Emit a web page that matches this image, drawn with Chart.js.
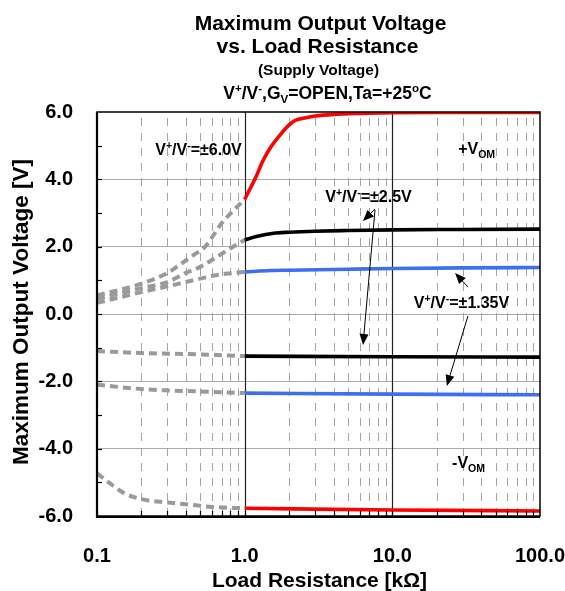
<!DOCTYPE html>
<html><head><meta charset="utf-8">
<script src="https://cdn.jsdelivr.net/npm/chart.js@4"></script>
<style>html,body{margin:0;padding:0;background:#fff}#wrap{width:565px;height:591px}</style>
</head><body><div id="wrap"><canvas id="c" width="565" height="591"></canvas></div>
<script>
// ---- data (Load resistance kΩ, output voltage V) ----
const redPosX = [1, 1.2, 1.33, 1.5, 1.8, 2.0, 2.2, 2.6, 3, 4, 6, 10, 20, 50, 100];
const redPosY = [3.4, 4.1, 4.55, 4.95, 5.4, 5.62, 5.75, 5.83, 5.88, 5.93, 5.96, 5.98, 5.99, 5.99, 5.99];
const blackPosX = [1, 1.2, 1.57, 2, 3, 5, 10, 30, 100];
const blackPosY = [2.2, 2.3, 2.4, 2.43, 2.46, 2.48, 2.5, 2.51, 2.52];
const bluePosX = [1, 1.5, 2, 5, 10, 30, 100];
const bluePosY = [1.25, 1.29, 1.3, 1.33, 1.35, 1.37, 1.38];
const blackNegX = [1, 10, 100];
const blackNegY = [-1.25, -1.27, -1.28];
const blueNegX = [1, 10, 100];
const blueNegY = [-2.35, -2.38, -2.4];
const redNegX = [1, 10, 100];
const redNegY = [-5.77, -5.82, -5.85];

const redPosExtX = [0.1, 0.2, 0.3, 0.36, 0.45, 0.54, 0.7, 0.85, 1.0];
const redPosExtY = [0.55, 0.9, 1.22, 1.45, 1.75, 2.0, 2.7, 3.1, 3.4];
const blackPosExtX = [0.1, 0.2, 0.3, 0.4, 0.5, 0.65, 0.8, 1.0];
const blackPosExtY = [0.45, 0.77, 0.95, 1.22, 1.4, 1.7, 1.95, 2.2];
const bluePosExtX = [0.1, 0.2, 0.3, 0.4, 0.5, 0.65, 0.8, 1.0];
const bluePosExtY = [0.33, 0.65, 0.82, 0.95, 1.05, 1.16, 1.21, 1.25];
const blackNegExtX = [0.1, 0.2, 0.5, 1.0];
const blackNegExtY = [-1.1, -1.16, -1.2, -1.25];
const blueNegExtX = [0.1, 0.2, 0.3, 0.5, 1.0];
const blueNegExtY = [-2.1, -2.23, -2.27, -2.3, -2.35];
const redNegExtX = [0.1, 0.12, 0.15, 0.2, 0.3, 0.4, 0.6, 1.0];
const redNegExtY = [-4.73, -5.0, -5.3, -5.5, -5.6, -5.65, -5.73, -5.77];

const xTickValues = [0.1, 1, 10, 100];
const yMin = -6, yMax = 6, yStep = 2;

const titleLines = ['Maximum Output Voltage', 'vs. Load Resistance', '(Supply Voltage)', 'V^{+}/V^{-},G_{V}=OPEN,Ta=+25^{o}C'];
const xTitle = 'Load Resistance [kΩ]';
const yTitle = 'Maximum Output Voltage [V]';

const labels = [
  {s: 'V^{+}/V^{-}=±6.0V', x: 0.4866, y: 4.72, align: 'center'},
  {s: '+V_{OM}', x: 27.9, y: 4.75, align: 'left'},
  {s: 'V^{+}/V^{-}=±2.5V', x: 6.9, y: 3.33, align: 'center'},
  {s: 'V^{+}/V^{-}=±1.35V', x: 29.4, y: 0.18, align: 'center'},
  {s: '-V_{OM}', x: 25.4, y: -4.57, align: 'left'}
];
const arrows = [
  {from: [7.63, 3.12], to: [6.33, 2.76]},
  {from: [7.63, 3.09], to: [6.33, -0.92]},
  {from: [32.5, 0.80], to: [26.6, 1.22]},
  {from: [32.5, -0.06], to: [23.4, -2.14]}
];

const FAM = '"Liberation Sans", Arial, Helvetica, sans-serif';
const RED = '#ff0000', BLACK = '#000000', BLUE = '#3d6ff0', GRAY = '#9a9a9a';

function pts(xs, ys) { return xs.map((x, i) => ({x: x, y: ys[i]})); }
function solid(xs, ys, color) {
  return {data: pts(xs, ys), borderColor: color, borderWidth: 3.6, pointRadius: 0, cubicInterpolationMode: 'monotone', fill: false, order: 1};
}
function dashed(xs, ys) {
  return {data: pts(xs, ys), borderColor: GRAY, borderWidth: 4, borderDash: [8, 5], pointRadius: 0, cubicInterpolationMode: 'monotone', fill: false, order: 2};
}

function parseRich(s) {
  const segs = []; let i = 0, buf = '';
  while (i < s.length) {
    const c = s[i];
    if ((c === '^' || c === '_') && s[i + 1] === '{') {
      if (buf) { segs.push({t: buf, m: 0}); buf = ''; }
      const j = s.indexOf('}', i);
      segs.push({t: s.slice(i + 2, j), m: c === '^' ? 1 : -1});
      i = j + 1;
    } else { buf += c; i++; }
  }
  if (buf) segs.push({t: buf, m: 0});
  return segs;
}
function drawRich(ctx, s, x, y, size, align) {
  const segs = parseRich(s);
  let w = 0;
  segs.forEach(g => {
    g.size = g.m === 0 ? size : size * 0.66;
    ctx.font = 'bold ' + g.size + 'px ' + FAM;
    g.w = ctx.measureText(g.t).width; w += g.w;
  });
  let cx = align === 'center' ? x - w / 2 : x;
  ctx.textAlign = 'left'; ctx.textBaseline = 'alphabetic'; ctx.fillStyle = '#000';
  segs.forEach(g => {
    ctx.font = 'bold ' + g.size + 'px ' + FAM;
    const dy = g.m === 1 ? -size * 0.38 : (g.m === -1 ? size * 0.24 : 0);
    ctx.fillText(g.t, cx, y + dy);
    cx += g.w;
  });
}
function drawArrow(ctx, x1, y1, x2, y2) {
  ctx.save();
  ctx.strokeStyle = '#000'; ctx.fillStyle = '#000'; ctx.lineWidth = 1;
  const a = Math.atan2(y2 - y1, x2 - x1), L = 11, W = 4.5;
  const bx = x2 - L * Math.cos(a), by = y2 - L * Math.sin(a);
  ctx.beginPath(); ctx.moveTo(x1, y1); ctx.lineTo(bx, by); ctx.stroke();
  ctx.beginPath();
  ctx.moveTo(x2, y2);
  ctx.lineTo(bx + W * Math.sin(a), by - W * Math.cos(a));
  ctx.lineTo(bx - W * Math.sin(a), by + W * Math.cos(a));
  ctx.closePath(); ctx.fill();
  ctx.restore();
}
function minorValues(xs) {
  const out = [];
  for (let d = xs[0]; d < xs[xs.length - 1] * 0.999; d *= 10)
    for (let k = 1; k <= 9; k++) out.push(d * k);
  return out;
}

const gridPlugin = {
  id: 'grid',
  beforeDatasetsDraw(chart) {
    const {ctx, chartArea: a, scales: {x}} = chart;
    ctx.save();
    ctx.lineWidth = 1;
    minorValues(xTickValues).forEach(v => {
      if (xTickValues.some(t => Math.abs(t - v) < 1e-9)) return;
      const px = Math.round(x.getPixelForValue(v)) + 0.5;
      ctx.strokeStyle = '#a4a4a4'; ctx.setLineDash([8, 7]);
      ctx.beginPath(); ctx.moveTo(px, a.top + 6); ctx.lineTo(px, a.bottom); ctx.stroke();
    });
    ctx.setLineDash([]);
    xTickValues.slice(1, -1).forEach(v => {
      const px = Math.round(x.getPixelForValue(v)) + 0.5;
      ctx.strokeStyle = '#222'; ctx.lineWidth = 1.2;
      ctx.beginPath(); ctx.moveTo(px, a.top); ctx.lineTo(px, a.bottom); ctx.stroke();
    });
    ctx.restore();
  },
  afterDatasetsDraw(chart) {
    const {ctx, chartArea: a, scales: {x, y}} = chart;
    ctx.save();
    // frame
    ctx.strokeStyle = '#000';
    ctx.lineWidth = 1.5;
    ctx.strokeRect(a.left, a.top, a.right - a.left, a.bottom - a.top);
    ctx.lineWidth = 2.2;
    ctx.beginPath(); ctx.moveTo(a.left, a.top); ctx.lineTo(a.left, a.bottom + 1); ctx.lineTo(a.right, a.bottom + 1); ctx.stroke();
    // inward ticks
    ctx.lineWidth = 1.2;
    for (let v = yMin + 1; v < yMax; v++) {
      const py = Math.round(y.getPixelForValue(v)) + 0.5;
      ctx.beginPath(); ctx.moveTo(a.left, py); ctx.lineTo(a.left + 5, py); ctx.stroke();
    }
    minorValues(xTickValues).forEach(v => {
      const px = Math.round(x.getPixelForValue(v)) + 0.5;
      ctx.beginPath(); ctx.moveTo(px, a.bottom); ctx.lineTo(px, a.bottom - 5); ctx.stroke();
    });
    // annotations
    labels.forEach(l => drawRich(ctx, l.s, x.getPixelForValue(l.x), y.getPixelForValue(l.y), 16, l.align));
    arrows.forEach(r => drawArrow(ctx, x.getPixelForValue(r.from[0]), y.getPixelForValue(r.from[1]), x.getPixelForValue(r.to[0]), y.getPixelForValue(r.to[1])));
    // titles
    const cx = (a.left + a.right) / 2;
    drawRich(ctx, titleLines[0], cx + 2, 30, 21, 'center');
    drawRich(ctx, titleLines[1], cx - 1, 53, 21, 'center');
    drawRich(ctx, titleLines[2], cx, 75, 15.5, 'center');
    drawRich(ctx, titleLines[3], cx + 9, 99, 17.5, 'center');
    // axis titles
    drawRich(ctx, xTitle, cx + 1, 587, 21, 'center');
    ctx.save();
    ctx.translate(28, (a.top + a.bottom) / 2 - 2);
    ctx.rotate(-Math.PI / 2);
    drawRich(ctx, yTitle, 0, 0, 22.5, 'center');
    ctx.restore();
    ctx.restore();
  }
};

new Chart(document.getElementById('c'), {
  type: 'line',
  data: {
    datasets: [
      solid(redPosX, redPosY, RED), solid(blackPosX, blackPosY, BLACK), solid(bluePosX, bluePosY, BLUE),
      solid(blackNegX, blackNegY, BLACK), solid(blueNegX, blueNegY, BLUE), solid(redNegX, redNegY, RED),
      dashed(redPosExtX, redPosExtY), dashed(blackPosExtX, blackPosExtY), dashed(bluePosExtX, bluePosExtY),
      dashed(blackNegExtX, blackNegExtY), dashed(blueNegExtX, blueNegExtY), dashed(redNegExtX, redNegExtY)
    ]
  },
  options: {
    responsive: false, animation: false, devicePixelRatio: 1,
    layout: {padding: {top: 112, right: 0, left: 0, bottom: 0}},
    plugins: {legend: {display: false}, tooltip: {enabled: false}, title: {display: false}},
    scales: {
      x: {
        type: 'logarithmic', min: xTickValues[0], max: xTickValues[xTickValues.length - 1],
        grid: {display: false}, border: {display: false},
        afterFit(s) { s.height = 75; s.paddingRight = 25; s.paddingLeft = 0; },
        ticks: {
          autoSkip: false, maxRotation: 0, padding: 20, color: '#000',
          font: {family: FAM, size: 20, weight: 'bold'},
          callback(v) { return xTickValues.some(t => Math.abs(t - v) < 1e-9) ? Number(v).toFixed(1) : ''; }
        }
      },
      y: {
        min: yMin, max: yMax,
        afterFit(s) { s.width = 97; s.paddingTop = 0; s.paddingBottom = 0; },
        grid: {drawTicks: false, color: c => (c.tick && Math.abs(c.tick.value) >= yMax) ? 'rgba(0,0,0,0)' : '#ababab', lineWidth: 1},
        border: {display: false},
        ticks: {stepSize: yStep, padding: 24, color: '#000', font: {family: FAM, size: 20, weight: 'bold'}, callback: v => Number(v).toFixed(1)}
      }
    }
  },
  plugins: [gridPlugin]
});
</script>
</body></html>
